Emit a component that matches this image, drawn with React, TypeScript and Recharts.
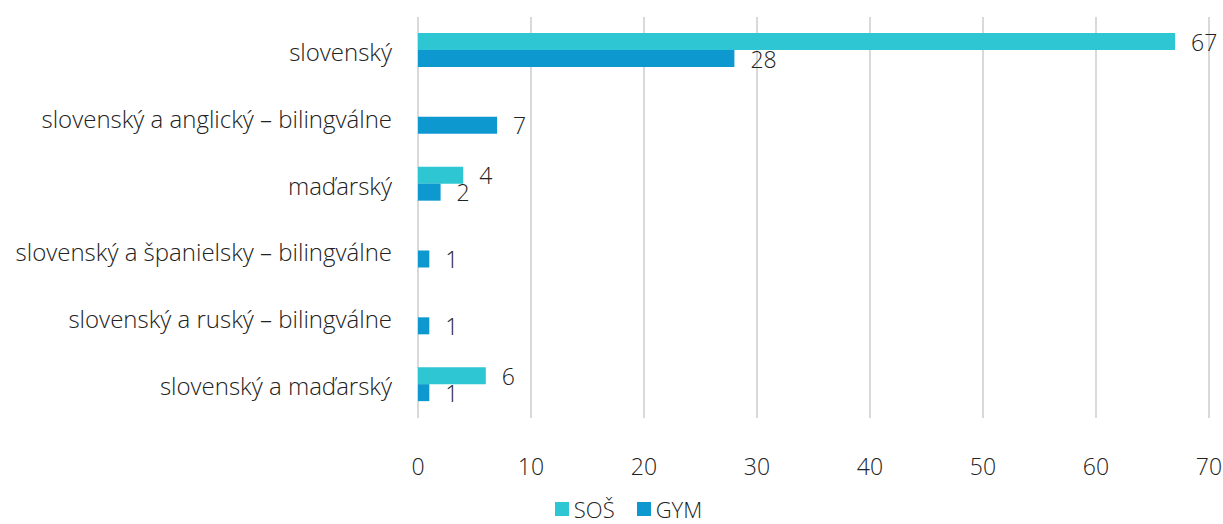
import { BarChart, Bar, XAxis, YAxis, CartesianGrid, Legend, LabelList } from "recharts";

const categories = [
  "slovenský",
  "slovenský a anglický – bilingválne",
  "maďarský",
  "slovenský a španielsky – bilingválne",
  "slovenský a ruský – bilingválne ",
  "slovenský a maďarský",
];
const sosValues = [67, 0, 4, 0, 0, 6];
const gymValues = [28, 7, 2, 1, 1, 1];
const xTicks = [0, 10, 20, 30, 40, 50, 60, 70];

const SOS_COLOR = "#2ec6d2";
const GYM_COLOR = "#0d98d0";
const FONT = "'Open Sans', sans-serif";
const FS = 23;

const data = categories.map((name, i) => ({
  name,
  SOS: sosValues[i],
  GYM: gymValues[i],
}));

const legendItems = [
  { label: "SOŠ", color: SOS_COLOR },
  { label: "GYM", color: GYM_COLOR },
];

// hide labels for zero-length bars
const renderLabel = (props: any) => {
  const { x, y, width, height, value } = props;
  if (!value) return null;
  return (
    <text
      x={x + width + 16}
      y={y + height / 2 + 3}
      fill="#222"
      fontSize={FS}
      fontWeight={300}
      fontFamily={FONT}
      dominantBaseline="middle"
    >
      {value}
    </text>
  );
};

const renderLegend = () => (
  <div style={{ display: "flex", justifyContent: "center", gap: 22, paddingLeft: 34, fontFamily: FONT, fontSize: 22, fontWeight: 300, color: "#222", lineHeight: "26px" }}>
    {legendItems.map((it) => (
      <span key={it.label} style={{ display: "flex", alignItems: "center" }}>
        <span style={{ width: 14, height: 14, background: it.color, marginRight: 5, display: "inline-block" }} />
        {it.label}
      </span>
    ))}
  </div>
);

export default function App() {
  return (
    <div style={{ position: "absolute", left: 0, top: 0, width: 1223, height: 524, overflow: "hidden", background: "#fff" }}>
      <BarChart
        width={1223}
        height={524}
        data={data}
        layout="vertical"
        margin={{ top: 17, right: 14, bottom: 0, left: 0 }}
        barGap={0}
        barSize={17}
      >
        <CartesianGrid horizontal={false} stroke="#d9d9d9" strokeWidth={2} />
        <XAxis
          type="number"
          domain={[0, 70]}
          ticks={xTicks}
          axisLine={false}
          tickLine={false}
          tickMargin={35}
          height={80}
          tick={{ fill: "#222", fontSize: FS, fontWeight: 300, fontFamily: FONT }}
        />
        <YAxis
          type="category"
          dataKey="name"
          width={418}
          axisLine={false}
          tickLine={false}
          tickMargin={20}
          interval={0}
          tick={{ fill: "#222", fontSize: 24, fontWeight: 300, fontFamily: FONT, dy: 2 }}
        />
        <Legend content={renderLegend} wrapperStyle={{ top: 496, left: 0, width: 1223 }} />
        <Bar dataKey="SOS" name="SOŠ" fill={SOS_COLOR} isAnimationActive={false}>
          <LabelList dataKey="SOS" content={renderLabel} />
        </Bar>
        <Bar dataKey="GYM" name="GYM" fill={GYM_COLOR} isAnimationActive={false}>
          <LabelList dataKey="GYM" content={renderLabel} />
        </Bar>
      </BarChart>
    </div>
  );
}
